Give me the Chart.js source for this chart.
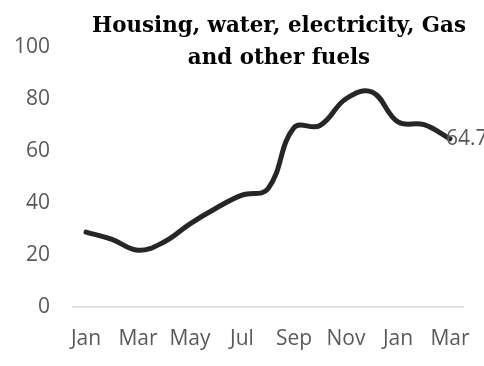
<!DOCTYPE html>
<html>
<head>
<meta charset="utf-8">
<script src="https://cdn.jsdelivr.net/npm/chart.js@4"></script>
<style>
    html, body { margin: 0; padding: 0; background: #fff; }
    #wrap { width: 484px; height: 366px; }
</style>
</head>
<body>
<div id="wrap"><canvas id="housing-line"></canvas></div>
<script>
// months Jan .. Mar of the following year
var monthLabels = ["Jan", "Feb", "Mar", "Apr", "May", "Jun", "Jul", "Aug", "Sep", "Oct", "Nov", "Dec", "Jan", "Feb", "Mar"];
var housingValues = [28.8, 26, 21.8, 25, 32, 38, 43, 45.5, 69, 69.8, 80.1, 82.7, 71.2, 70.1, 64.7];
var yTicks = [0, 20, 40, 60, 80, 100];
var titleLines = ["Housing, water, electricity, Gas", "and other fuels"];

var grey = "#595959";
var tickFont = { family: "'Open Sans'", size: 21 };

// title sits over the plot, a bit right of centre, like the original
var titlePlugin = {
    id: "titleOverlay",
    afterDraw: function (chart) {
        var ctx = chart.ctx;
        ctx.save();
        ctx.font = "bold 23px 'DejaVu Serif'";
        // squeeze horizontally so the first line spans ~374px
        var sx = 374 / ctx.measureText(titleLines[0]).width;
        ctx.translate(279, 0);
        ctx.scale(sx, 1);
        ctx.fillStyle = "#000";
        ctx.textAlign = "center";
        ctx.textBaseline = "alphabetic";
        ctx.fillText(titleLines[0], 0, 32);
        ctx.fillText(titleLines[1], 0, 63.5);
        ctx.restore();
    },
};

// value label for the last point only
var lastLabelPlugin = {
    id: "lastLabel",
    afterDatasetsDraw: function (chart) {
        var meta = chart.getDatasetMeta(0);
        var last = meta.data[meta.data.length - 1];
        var ctx = chart.ctx;
        ctx.save();
        ctx.font = "21px 'Open Sans'";
        ctx.fillStyle = grey;
        ctx.textAlign = "left";
        ctx.textBaseline = "middle";
        ctx.fillText(String(housingValues[housingValues.length - 1]), last.x - 4, last.y);
        ctx.restore();
    },
};

var ctx = document.getElementById("housing-line").getContext("2d");
var LineChart = new Chart(ctx, {
    type: "line",
    data: {
        labels: monthLabels,
        datasets: [
            {
                data: housingValues,
                borderColor: "#262626",
                borderWidth: 5,
                borderCapStyle: "round",
                borderJoinStyle: "round",
                pointRadius: 0,
                tension: 0.4,
                fill: false,
            },
        ],
    },
    options: {
        responsive: true,
        maintainAspectRatio: false,
        animation: false,
        layout: {
            padding: { top: 47, right: 21, bottom: 0, left: 0 },
        },
        plugins: {
            legend: { display: false },
            title: { display: false },
            tooltip: { enabled: false },
        },
        scales: {
            x: {
                offset: true,
                grid: { display: false, drawTicks: false },
                border: { display: true, color: "#d9d9d9", width: 1.5 },
                ticks: {
                    autoSkip: false,
                    maxRotation: 0,
                    padding: 19,
                    color: grey,
                    font: tickFont,
                    callback: function (value, index) {
                        return index % 2 === 0 ? monthLabels[index] : "";
                    },
                },
                afterFit: function (scale) {
                    scale.height = 59;
                    // labels may hang past the ends, don't shrink the plot for them
                    scale.paddingLeft = 0;
                    scale.paddingRight = 0;
                },
            },
            y: {
                min: 0,
                max: 100,
                grid: { display: false, drawTicks: false },
                border: { display: false },
                afterBuildTicks: function (scale) {
                    scale.ticks = yTicks.map(function (v) { return { value: v }; });
                },
                ticks: {
                    padding: 23,
                    color: grey,
                    font: tickFont,
                },
                afterFit: function (scale) {
                    scale.width = 73;
                },
            },
        },
    },
    plugins: [titlePlugin, lastLabelPlugin],
});
</script>
</body>
</html>
